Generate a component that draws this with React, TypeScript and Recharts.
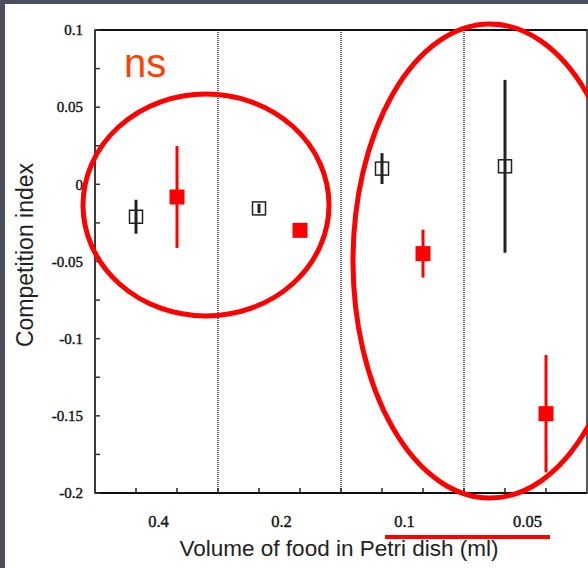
import {
  ScatterChart,
  Scatter,
  XAxis,
  YAxis,
  ErrorBar,
  ReferenceLine,
  ReferenceArea,
} from 'recharts';

// food volume groups (ml) and where their labels sit on the x scale
const groups = ['0.4', '0.2', '0.1', '0.05'];
const groupCenters = [1.5, 4.5, 7.5, 10.5];
const dividers = [3, 6, 9];
const minorTicks = [1, 2, 3, 4, 5, 6, 7, 8, 9, 10, 11];

// open squares
const openX = [1, 4, 7, 10];
const openMean = [-0.021, -0.0156, 0.0102, 0.0117];
const openErr = [0.011, 0.003, 0.01, 0.056];

// filled red squares
const redX = [2, 5, 8, 11];
const redMean = [-0.0082, -0.0298, -0.0449, -0.1486];
const redErr = [0.033, 0.002, 0.0155, 0.038];

const yTicks = [0.1, 0.075, 0.05, 0.025, 0, -0.025, -0.05, -0.075, -0.1, -0.125, -0.15, -0.175, -0.2];

const SANS = '"Liberation Sans", Arial, sans-serif';
const SERIF = '"Liberation Serif", "Times New Roman", serif';

const openData = openX.map((x, i) => ({ x, y: openMean[i], err: openErr[i] }));
const redData = redX.map((x, i) => ({ x, y: redMean[i], err: redErr[i] }));

const xTickTicks = [...minorTicks, ...groupCenters].sort((a, b) => a - b);

function XTick({ x, y, payload }: any) {
  const i = groupCenters.indexOf(payload.value);
  if (i >= 0) {
    return (
      <text
        x={x + 2}
        y={y + 34}
        textAnchor="middle"
        fontFamily={SERIF}
        fontSize={16.5}
        fill="#111"
        stroke="#111"
        strokeWidth={0.4}
      >
        {groups[i]}
      </text>
    );
  }
  return <line x1={x} x2={x} y1={y} y2={y - 5} stroke="#222" strokeWidth={1.5} />;
}

const fmtY = (v: number) => {
  const k = v * 20;
  if (Math.abs(k - Math.round(k)) > 1e-6) return '';
  return String(Math.round(v * 100) / 100);
};

const OpenSquare = ({ cx, cy }: any) => (
  <rect x={cx - 6.5} y={cy - 6.5} width={13} height={13} fill="none" stroke="#222" strokeWidth={1.5} />
);

const RedSquare = ({ cx, cy }: any) => (
  <rect x={cx - 7.5} y={cy - 7.5} width={15} height={15} fill="#ff0000" />
);

export default function App() {
  return (
    <div
      style={{
        position: 'absolute',
        left: 0,
        top: 0,
        width: 588,
        height: 568,
        background: '#4b4e5f',
        overflow: 'hidden',
      }}
    >
      <div style={{ position: 'absolute', left: 5, top: 4, width: 583, height: 564, background: '#fff' }} />
      <div style={{ position: 'absolute', left: 0, top: 0 }}>
        <ScatterChart width={588} height={568} margin={{ top: 30, right: 1, bottom: 0, left: 0 }}>
          <XAxis
            type="number"
            dataKey="x"
            domain={[0, 12]}
            ticks={xTickTicks}
            interval={0}
            tick={<XTick />}
            tickLine={false}
            tickSize={0}
            tickMargin={0}
            height={75}
            axisLine={{ stroke: '#111', strokeWidth: 2 }}
          />
          <YAxis
            type="number"
            dataKey="y"
            domain={[-0.2, 0.1]}
            ticks={yTicks}
            interval={0}
            width={95}
            tickSize={-5}
            tickMargin={17}
            tickFormatter={fmtY}
            tick={{ fontFamily: SERIF, fontSize: 15, fill: '#111', stroke: '#111', strokeWidth: 0.4 }}
            tickLine={{ stroke: '#333', strokeWidth: 1.5 }}
            axisLine={{ stroke: '#333', strokeWidth: 1.5 }}
          />
          <ReferenceArea x1={0} x2={12} y1={-0.2} y2={0.1} fill="none" stroke="#222" strokeWidth={1.5} />
          <ReferenceLine y={0.1} stroke="#111" strokeWidth={2} />
          {dividers.map((d) => (
            <ReferenceLine key={d} x={d} stroke="#333" strokeWidth={1.5} strokeDasharray="1 1" />
          ))}
          <Scatter data={openData} shape={<OpenSquare />} isAnimationActive={false}>
            <ErrorBar dataKey="err" direction="y" width={0} stroke="#222" strokeWidth={3} />
          </Scatter>
          <Scatter data={redData} shape={<RedSquare />} isAnimationActive={false}>
            <ErrorBar dataKey="err" direction="y" width={0} stroke="#ff0000" strokeWidth={3} />
          </Scatter>
        </ScatterChart>
      </div>
      {/* titles and the slide's red annotations */}
      <svg
        width={588}
        height={568}
        style={{ position: 'absolute', left: 0, top: 0, pointerEvents: 'none' }}
      >
        <text
          transform="translate(33,255) rotate(-90)"
          textAnchor="middle"
          fontFamily={SANS}
          fontSize={23}
          fill="#222"
        >
          Competition index
        </text>
        <text x={339} y={556} textAnchor="middle" fontFamily={SANS} fontSize={22.5} fill="#222">
          Volume of food in Petri dish (ml)
        </text>
        <text x={124} y={77} fontFamily={SANS} fontSize={40} fill="#ff4000">
          ns
        </text>
        <ellipse cx={206} cy={205} rx={123} ry={111} fill="none" stroke="#ff0000" strokeWidth={5} />
        <ellipse cx={490} cy={261} rx={137} ry={237} fill="none" stroke="#ff0000" strokeWidth={5} />
        <line x1={385} x2={550} y1={537} y2={537} stroke="#ff0000" strokeWidth={4} />
      </svg>
    </div>
  );
}
